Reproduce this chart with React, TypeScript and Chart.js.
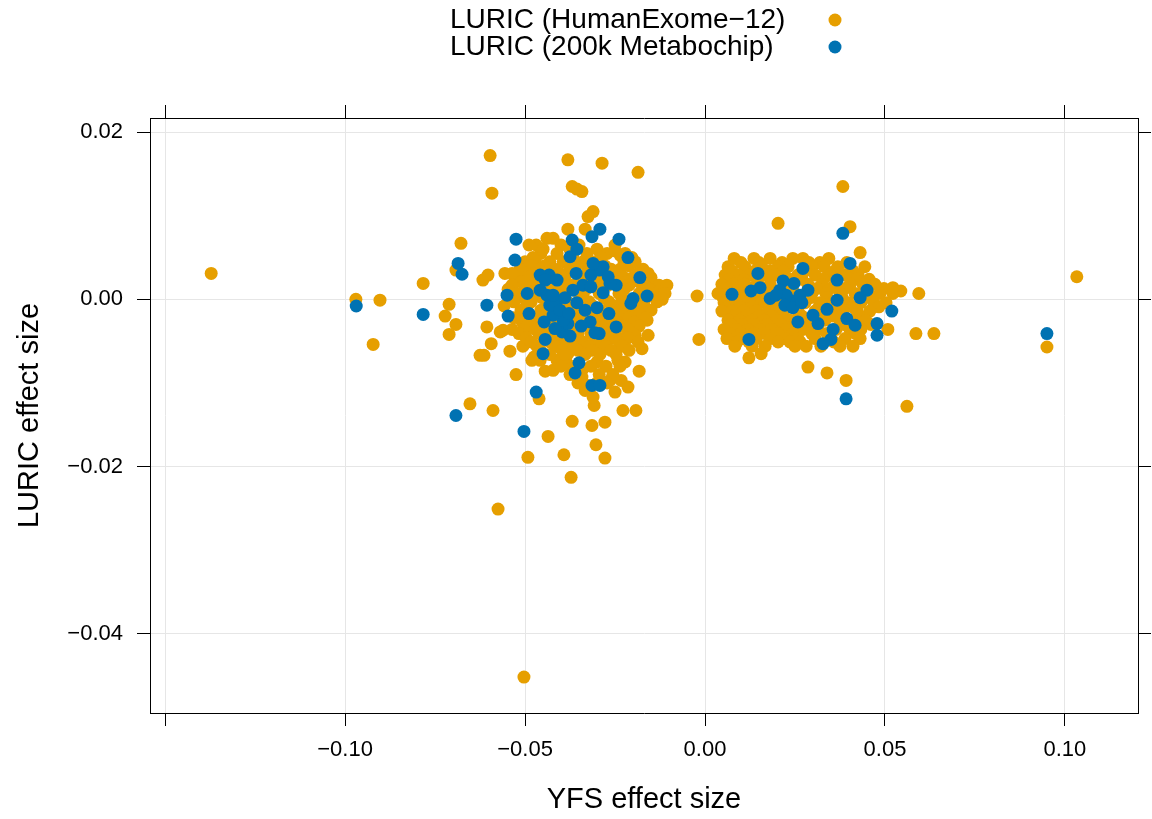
import React, { useEffect, useRef } from 'react';
import { Chart, registerables } from 'chart.js';

Chart.register(...registerables);

const FONT = '"Liberation Sans", Arial, Helvetica, sans-serif';

const seriesLabels = ['LURIC (HumanExome\u221212)', 'LURIC (200k Metabochip)'];
const seriesColors = ['#E69F00', '#0072B2'];

const xAxisTitle = 'YFS effect size';
const yAxisTitle = 'LURIC effect size';

const xRange = [-0.1542, 0.1203];
const yRange = [-0.0495, 0.0217];

const xTickValues = [-0.15, -0.1, -0.05, 0, 0.05, 0.1];
const xTickLabels = ['', '\u22120.10', '\u22120.05', '0.00', '0.05', '0.10'];
const yTickValues = [-0.04, -0.02, 0, 0.02];
const yTickLabels = ['\u22120.04', '\u22120.02', '0.00', '0.02'];

// LURIC (HumanExome-12): [YFS effect, LURIC effect]
const humanExomeLeftOuter: [number, number][] = [
  [-0.1372, 0.0031], [-0.097, 0.0], [-0.0903, -0.0001], [-0.0922, -0.0054], [-0.0783, 0.0019],
  [-0.0711, -0.0006], [-0.0722, -0.002], [-0.0692, -0.003], [-0.0711, -0.0042], [-0.0678, 0.0067],
  [-0.0692, 0.0035], [-0.0625, -0.0067], [-0.0653, -0.0125], [-0.0575, -0.0251], [-0.0503, -0.0452],
  [-0.0597, 0.0172], [-0.0592, 0.0127], [-0.0381, 0.0167], [-0.0286, 0.0163], [-0.0186, 0.0152],
  [-0.0369, 0.0135], [-0.0342, 0.0129], [-0.0356, 0.0132], [-0.0311, 0.0105], [-0.0325, 0.0099],
  [-0.0381, 0.0084], [-0.0333, 0.0084], [-0.0439, 0.0073], [-0.0422, 0.0073], [-0.0469, 0.0065],
  [-0.0236, 0.0053], [-0.0617, 0.0023], [-0.0603, 0.0029], [-0.0556, 0.0031], [-0.0528, 0.0025],
  [-0.0494, 0.0038], [-0.0472, 0.0049], [-0.0139, 0.0017], [-0.0117, 0.0013], [-0.0119, 0.0],
];

const humanExomeLeftLower: [number, number][] = [
  [-0.0606, -0.0033], [-0.0594, -0.0053], [-0.0614, -0.0067], [-0.0569, -0.0039], [-0.0542, -0.0062],
  [-0.0506, -0.0056], [-0.0506, -0.0038], [-0.0525, -0.009], [-0.0589, -0.0133], [-0.0461, -0.0119],
  [-0.0436, -0.0164], [-0.0492, -0.0189], [-0.0392, -0.0186], [-0.0372, -0.0213], [-0.0369, -0.0146],
  [-0.0314, -0.0151], [-0.0303, -0.0174], [-0.0278, -0.019], [-0.0278, -0.0147], [-0.0228, -0.0133],
  [-0.0192, -0.0133], [-0.0308, -0.0127], [-0.0311, -0.0117], [-0.0325, -0.0103], [-0.0342, -0.0093],
  [-0.0333, -0.0109], [-0.025, -0.0111], [-0.0264, -0.0097], [-0.0233, -0.0097], [-0.0214, -0.0105],
  [-0.0242, -0.0073], [-0.0222, -0.0075], [-0.0183, -0.0086], [-0.0175, -0.0059], [-0.0158, -0.0043],
  [-0.0161, -0.0025], [-0.0194, -0.0043], [-0.0217, -0.0043], [-0.03, -0.0075], [-0.0286, -0.0061],
  [-0.0422, -0.0085], [-0.0444, -0.0086], [-0.0411, -0.0073], [-0.0383, -0.0077], [-0.0342, -0.0085],
  [-0.0367, -0.0053], [-0.04, -0.0051], [-0.0381, -0.0065], [-0.03, -0.0049], [-0.0272, -0.0049],
  [-0.0481, -0.0073], [-0.0458, -0.0073], [-0.0475, -0.0069], [-0.0561, -0.0037], [-0.05, -0.0037],
  [-0.0492, -0.0031],
];

const humanExomeLeftCore: [number, number][] = [
  [-0.0489, 0.0065], [-0.04, 0.0065], [-0.035, 0.0065], [-0.025, 0.0065],
  [-0.045, 0.006], [-0.0375, 0.006], [-0.03, 0.006],
  [-0.0456, 0.0055], [-0.0411, 0.0055], [-0.0328, 0.0055], [-0.0272, 0.0055], [-0.0222, 0.0055], [-0.025, 0.0058],
  [-0.0478, 0.005], [-0.0367, 0.005], [-0.0289, 0.005], [-0.0203, 0.005],
  [-0.05, 0.0045], [-0.0431, 0.0045], [-0.0394, 0.0045], [-0.0339, 0.0045], [-0.0306, 0.0045], [-0.0225, 0.0045], [-0.0194, 0.0045],
  [-0.0483, 0.004], [-0.0447, 0.004], [-0.0358, 0.004], [-0.0278, 0.004], [-0.0211, 0.004],
  [-0.0514, 0.0036], [-0.0461, 0.0036], [-0.0417, 0.0036], [-0.0375, 0.0036], [-0.0325, 0.0036], [-0.0261, 0.0036], [-0.0236, 0.0036], [-0.0172, 0.0036],
  [-0.0536, 0.0031], [-0.0475, 0.0031], [-0.0403, 0.0031], [-0.0311, 0.0031], [-0.0244, 0.0031], [-0.0186, 0.0031], [-0.0158, 0.0031],
  [-0.0497, 0.0026], [-0.0447, 0.0026], [-0.0389, 0.0026], [-0.0339, 0.0026], [-0.0281, 0.0026], [-0.0225, 0.0026], [-0.02, 0.0026], [-0.015, 0.0026],
  [-0.0511, 0.0021], [-0.0464, 0.0021], [-0.0406, 0.0021], [-0.0353, 0.0021], [-0.0297, 0.0021], [-0.0239, 0.0021], [-0.0183, 0.0021],
  [-0.0536, 0.0017], [-0.0478, 0.0017], [-0.0425, 0.0017], [-0.0372, 0.0017], [-0.0317, 0.0017], [-0.0269, 0.0017], [-0.0211, 0.0017], [-0.0167, 0.0017], [-0.0128, 0.0017], [-0.0106, 0.0017],
  [-0.0547, 0.0012], [-0.0497, 0.0012], [-0.0442, 0.0012], [-0.0389, 0.0012], [-0.0331, 0.0012], [-0.0283, 0.0012], [-0.0225, 0.0012], [-0.0153, 0.0012],
  [-0.0522, 0.0007], [-0.0467, 0.0007], [-0.0411, 0.0007], [-0.035, 0.0007], [-0.0294, 0.0007], [-0.0239, 0.0007], [-0.0183, 0.0007], [-0.0142, 0.0007], [-0.0111, 0.0007],
  [-0.0506, 0.0002], [-0.0453, 0.0002], [-0.0397, 0.0002], [-0.0339, 0.0002], [-0.0281, 0.0002], [-0.0231, 0.0002], [-0.0164, 0.0002], [-0.0122, 0.0002],
  [-0.0531, -0.0003], [-0.0483, -0.0003], [-0.0439, -0.0003], [-0.0383, -0.0003], [-0.0322, -0.0003], [-0.0267, -0.0003], [-0.0219, -0.0003], [-0.0178, -0.0003], [-0.0133, -0.0003],
  [-0.0558, -0.0008], [-0.0494, -0.0008], [-0.0417, -0.0008], [-0.0364, -0.0008], [-0.0311, -0.0008], [-0.025, -0.0008], [-0.0206, -0.0008], [-0.0169, -0.0008],
  [-0.0511, -0.0013], [-0.0456, -0.0013], [-0.04, -0.0013], [-0.035, -0.0013], [-0.0292, -0.0013], [-0.0236, -0.0013], [-0.0192, -0.0013], [-0.015, -0.0013],
  [-0.0497, -0.0018], [-0.0444, -0.0018], [-0.0386, -0.0018], [-0.0328, -0.0018], [-0.0272, -0.0018], [-0.0228, -0.0018], [-0.0181, -0.0018],
  [-0.0531, -0.0022], [-0.0472, -0.0022], [-0.0422, -0.0022], [-0.0364, -0.0022], [-0.0308, -0.0022], [-0.0256, -0.0022], [-0.0211, -0.0022], [-0.0164, -0.0022],
  [-0.0508, -0.0027], [-0.0458, -0.0027], [-0.0403, -0.0027], [-0.035, -0.0027], [-0.0294, -0.0027], [-0.0244, -0.0027], [-0.0197, -0.0027],
  [-0.0494, -0.0032], [-0.0444, -0.0032], [-0.0389, -0.0032], [-0.0336, -0.0032], [-0.0278, -0.0032], [-0.0228, -0.0032], [-0.0183, -0.0032],
  [-0.0536, -0.0036], [-0.0472, -0.0036], [-0.0428, -0.0036], [-0.0372, -0.0036], [-0.03, -0.0036], [-0.0264, -0.0036], [-0.0214, -0.0036],
  [-0.0517, -0.0041], [-0.0461, -0.0041], [-0.0419, -0.0041], [-0.0353, -0.0041], [-0.0317, -0.0041], [-0.025, -0.0041], [-0.02, -0.0041],
  [-0.0497, -0.0046], [-0.0447, -0.0046], [-0.0392, -0.0046], [-0.0356, -0.0046], [-0.0306, -0.0046], [-0.0256, -0.0046], [-0.0214, -0.0046],
  [-0.0483, -0.0051], [-0.0431, -0.0051], [-0.0339, -0.0051], [-0.0289, -0.0051], [-0.0239, -0.0051], [-0.0186, -0.0051],
  [-0.0467, -0.0056], [-0.0417, -0.0056], [-0.0369, -0.0056], [-0.0322, -0.0056], [-0.0275, -0.0056], [-0.0228, -0.0056],
  [-0.0458, -0.0061], [-0.0397, -0.0061], [-0.0353, -0.0061], [-0.0314, -0.0061], [-0.0261, -0.0061], [-0.0211, -0.0061],
  [-0.0431, -0.0066], [-0.0389, -0.0066], [-0.0333, -0.0066], [-0.0292, -0.0066], [-0.0247, -0.0066],
  [-0.04, -0.008], [-0.0361, -0.008], [-0.0317, -0.008], [-0.0275, -0.008], [-0.0236, -0.008],
  [-0.0375, -0.009], [-0.0294, -0.009], [-0.0256, -0.009],
  [-0.0353, -0.01], [-0.03, -0.01], [-0.0272, -0.01],
];

const humanExomeRight: [number, number][] = [
  [0.0081, 0.0049], [0.0136, 0.0049], [0.0181, 0.0049], [0.0244, 0.0049], [0.0272, 0.0049], [0.0344, 0.0049],
  [0.01, 0.0044], [0.015, 0.0044], [0.0214, 0.0044], [0.0289, 0.0044], [0.0319, 0.0044], [0.0394, 0.0044],
  [0.0064, 0.0039], [0.0111, 0.0039], [0.0158, 0.0039], [0.0203, 0.0039], [0.0231, 0.0039], [0.0297, 0.0039], [0.0331, 0.0039], [0.0369, 0.0039], [0.0444, 0.0039],
  [0.0075, 0.0034], [0.0139, 0.0034], [0.0181, 0.0034], [0.0217, 0.0034], [0.0278, 0.0034], [0.0361, 0.0034], [0.0411, 0.0034],
  [0.0056, 0.0029], [0.0092, 0.0029], [0.0125, 0.0029], [0.0167, 0.0029], [0.0194, 0.0029], [0.0258, 0.0029], [0.0306, 0.0029], [0.0347, 0.0029], [0.0389, 0.0029], [0.0425, 0.0029],
  [0.0067, 0.0024], [0.0108, 0.0024], [0.0147, 0.0024], [0.0236, 0.0024], [0.0269, 0.0024], [0.0328, 0.0024], [0.0417, 0.0024], [0.0456, 0.0024],
  [0.0047, 0.0018], [0.0078, 0.0018], [0.0111, 0.0018], [0.0144, 0.0018], [0.0181, 0.0018], [0.0222, 0.0018], [0.0286, 0.0018], [0.0325, 0.0018], [0.0361, 0.0018], [0.0403, 0.0018], [0.0439, 0.0018], [0.0472, 0.0018],
  [0.0058, 0.0013], [0.0092, 0.0013], [0.0128, 0.0013], [0.0164, 0.0013], [0.0242, 0.0013], [0.0311, 0.0013], [0.0347, 0.0013], [0.0389, 0.0013], [0.0497, 0.0013],
  [0.0036, 0.0007], [0.0069, 0.0007], [0.0103, 0.0007], [0.0133, 0.0007], [0.0167, 0.0007], [0.0203, 0.0007], [0.025, 0.0007], [0.0297, 0.0007], [0.0336, 0.0007], [0.0375, 0.0007], [0.0417, 0.0007], [0.0453, 0.0007], [0.0486, 0.0007], [0.0522, 0.0007],
  [0.005, 0.0002], [0.0083, 0.0002], [0.0117, 0.0002], [0.015, 0.0002], [0.0211, 0.0002], [0.0292, 0.0002], [0.0339, 0.0002], [0.0381, 0.0002], [0.0458, 0.0002],
  [0.0053, -0.0004], [0.0086, -0.0004], [0.0119, -0.0004], [0.0153, -0.0004], [0.0186, -0.0004], [0.0231, -0.0004], [0.0278, -0.0004], [0.0319, -0.0004], [0.0356, -0.0004], [0.0397, -0.0004], [0.0433, -0.0004], [0.0469, -0.0004], [0.0503, -0.0004],
  [0.0064, -0.0009], [0.0097, -0.0009], [0.0133, -0.0009], [0.0197, -0.0009], [0.0244, -0.0009], [0.0317, -0.0009], [0.0367, -0.0009], [0.0411, -0.0009], [0.0483, -0.0009],
  [0.0047, -0.0014], [0.0075, -0.0014], [0.0108, -0.0014], [0.0142, -0.0014], [0.0175, -0.0014], [0.0208, -0.0014], [0.0258, -0.0014], [0.0306, -0.0014], [0.0347, -0.0014], [0.0383, -0.0014], [0.0422, -0.0014], [0.0458, -0.0014],
  [0.0081, -0.002], [0.0114, -0.002], [0.015, -0.002], [0.0186, -0.002], [0.0219, -0.002], [0.0269, -0.002], [0.0311, -0.002], [0.0356, -0.002], [0.0431, -0.002],
  [0.0064, -0.0025], [0.0097, -0.0025], [0.0131, -0.0025], [0.0164, -0.0025], [0.02, -0.0025], [0.0236, -0.0025], [0.0286, -0.0025], [0.0333, -0.0025], [0.0375, -0.0025], [0.0408, -0.0025], [0.0447, -0.0025],
  [0.0072, -0.003], [0.0103, -0.003], [0.0136, -0.003], [0.0172, -0.003], [0.0211, -0.003], [0.025, -0.003], [0.03, -0.003], [0.0386, -0.003], [0.0461, -0.003],
  [0.0053, -0.0036], [0.0086, -0.0036], [0.0119, -0.0036], [0.0153, -0.0036], [0.0186, -0.0036], [0.0225, -0.0036], [0.0272, -0.0036], [0.0314, -0.0036], [0.0364, -0.0036], [0.0403, -0.0036], [0.0433, -0.0036], [0.0508, -0.0036],
  [0.0069, -0.0041], [0.01, -0.0041], [0.0136, -0.0041], [0.0167, -0.0041], [0.0203, -0.0041], [0.0244, -0.0041], [0.0297, -0.0041], [0.0339, -0.0041], [0.0419, -0.0041],
  [0.0061, -0.0047], [0.0103, -0.0047], [0.0142, -0.0047], [0.0181, -0.0047], [0.0222, -0.0047], [0.0258, -0.0047], [0.0306, -0.0047], [0.0347, -0.0047], [0.0389, -0.0047], [0.0431, -0.0047],
  [0.0089, -0.0051], [0.0122, -0.0051], [0.0203, -0.0051], [0.0236, -0.0051], [0.0264, -0.0051], [0.0358, -0.0051],
  [0.0083, -0.0056], [0.0131, -0.0056], [0.0167, -0.0056], [0.025, -0.0056], [0.0281, -0.0056], [0.0322, -0.0056], [0.0375, -0.0056], [0.0411, -0.0056],
  [0.0122, -0.007], [0.0156, -0.0065], [0.0286, -0.0081], [0.0339, -0.0088], [0.0392, -0.0097],
  [0.0383, 0.0135], [0.0203, 0.0091], [0.0403, 0.0087], [0.0431, 0.0056],
  [0.0594, 0.0007], [0.0544, 0.001], [0.0522, 0.0014], [0.0586, -0.0041], [0.0636, -0.0041],
  [0.0561, -0.0128], [0.1033, 0.0027], [0.095, -0.0057], [-0.0022, 0.0004], [-0.0017, -0.0048],
];

// LURIC (200k Metabochip)
const metabochipLeft: [number, number][] = [
  [-0.0969, -0.0008], [-0.0783, -0.0018], [-0.0686, 0.0043], [-0.0675, 0.003], [-0.0692, -0.0139],
  [-0.0525, 0.0072], [-0.0292, 0.0084], [-0.0314, 0.0075], [-0.0369, 0.0071], [-0.0239, 0.0072],
  [-0.0356, 0.006], [-0.0528, 0.0047], [-0.0375, 0.0051], [-0.0214, 0.005], [-0.0292, 0.0038],
  [-0.0358, 0.0031], [-0.0431, 0.0026], [-0.0181, 0.0026], [-0.0161, 0.0004], [-0.02, 0.0001],
  [-0.0247, 0.0017], [-0.055, 0.0005], [-0.0606, -0.0007], [-0.0547, -0.002], [-0.0494, 0.0007],
  [-0.0444, -0.0048], [-0.045, -0.0065], [-0.0469, -0.0111], [-0.0361, -0.0088], [-0.035, -0.0076],
  [-0.0314, -0.0103], [-0.0292, -0.0103], [-0.0503, -0.0158], [-0.0294, -0.0041], [-0.0247, -0.0033],
  [-0.0397, -0.0039], [-0.0375, -0.0044], [-0.0206, -0.0005], [-0.0267, -0.0017], [-0.0333, -0.0013],
  [-0.03, -0.001], [-0.0381, -0.0029], [-0.0394, -0.0025], [-0.0422, -0.0019], [-0.0439, 0.0005],
  [-0.0489, -0.0017], [-0.0433, 0.0029], [-0.0411, -0.0001], [-0.0294, 0.0035], [-0.0264, 0.0019],
  [-0.0283, 0.0039], [-0.0317, 0.0029], [-0.0311, 0.0043], [-0.0458, 0.0029], [-0.0444, 0.0023],
  [-0.0411, 0.0023], [-0.0367, 0.0011], [-0.0458, 0.0011], [-0.0431, -0.0007], [-0.0356, -0.0004],
  [-0.0319, -0.0027], [-0.0422, 0.0005], [-0.0403, -0.0013], [-0.0389, 0.0002], [-0.0447, -0.0027],
  [-0.0417, -0.0035], [-0.0378, -0.0017], [-0.0339, 0.0017], [-0.0317, 0.0015], [-0.0283, 0.0008],
  [-0.0269, 0.0027], [-0.0344, -0.0032], [-0.0306, -0.004],
];

const metabochipRight: [number, number][] = [
  [0.0383, 0.0079], [0.0403, 0.0043], [0.0272, 0.0037], [0.0147, 0.0031], [0.0217, 0.0022],
  [0.0247, 0.0019], [0.0367, 0.0023], [0.045, 0.0011], [0.0075, 0.0006], [0.0153, 0.0014],
  [0.0128, 0.001], [0.0181, 0.0001], [0.0286, 0.0011], [0.0367, -0.0001], [0.0431, 0.0002],
  [0.0519, -0.0014], [0.0339, -0.0012], [0.0236, -0.0001], [0.0264, 0.0005], [0.0258, -0.0027],
  [0.0314, -0.0029], [0.0356, -0.0036], [0.0394, -0.0023], [0.0417, -0.0031], [0.0478, -0.0029],
  [0.0478, -0.0043], [0.0122, -0.0048], [0.0328, -0.0053], [0.03, -0.0019], [0.0392, -0.0119],
  [0.095, -0.0041], [0.0208, 0.0011], [0.0225, 0.0005], [0.0222, -0.0007], [0.0244, -0.001],
  [0.0269, -0.0004], [0.0197, 0.0005], [0.035, -0.0048],
];

const toPoints = (arrs: [number, number][][]) =>
  arrs.flat().map(([x, y]) => ({ x, y }));

const keyPlugin = {
  id: 'keyPlugin',
  afterDraw(chart: any) {
    const ctx = chart.ctx;
    ctx.save();
    ctx.font = `28px ${FONT}`;
    ctx.textAlign = 'left';
    ctx.textBaseline = 'middle';
    chart.data.datasets.forEach((ds: any, i: number) => {
      const y = 20 + i * 27;
      ctx.fillStyle = '#000';
      ctx.fillText(ds.label, 450, y);
      ctx.beginPath();
      ctx.arc(835, y, 6.5, 0, Math.PI * 2);
      ctx.fillStyle = ds.backgroundColor;
      ctx.fill();
    });
    ctx.restore();
  },
};

export default function App() {
  const ref = useRef<HTMLCanvasElement | null>(null);

  useEffect(() => {
    if (!ref.current) return;
    const setX = (s: any) => { s.ticks = xTickValues.map((value) => ({ value })); };
    const setY = (s: any) => { s.ticks = yTickValues.map((value) => ({ value })); };
    const chart = new Chart(ref.current, {
      type: 'scatter',
      data: {
        datasets: [
          {
            label: seriesLabels[0],
            data: toPoints([humanExomeLeftOuter, humanExomeLeftLower, humanExomeLeftCore, humanExomeRight]),
            backgroundColor: seriesColors[0],
            borderWidth: 0,
            pointRadius: 6.5,
            order: 2,
          },
          {
            label: seriesLabels[1],
            data: toPoints([metabochipLeft, metabochipRight]),
            backgroundColor: seriesColors[1],
            borderWidth: 0,
            pointRadius: 6.5,
            order: 1,
          },
        ],
      },
      options: {
        responsive: false,
        animation: false,
        events: [],
        devicePixelRatio: 1,
        layout: { padding: 0 },
        plugins: { legend: { display: false }, tooltip: { enabled: false } },
        scales: {
          x: {
            type: 'linear',
            position: 'bottom',
            min: xRange[0],
            max: xRange[1],
            afterBuildTicks: setX,
            afterFit: (s: any) => { s.height = 106; },
            grid: { color: '#e6e6e6', lineWidth: 1, drawTicks: true, tickLength: 13, tickColor: '#000', tickWidth: 1 },
            border: { display: true, color: '#000', width: 1 },
            ticks: {
              callback: (_v: any, i: number) => xTickLabels[i],
              font: { size: 22, family: FONT },
              color: '#000',
              padding: 11,
              maxRotation: 0,
              autoSkip: false,
            },
            title: { display: true, text: xAxisTitle, font: { size: 29, family: FONT }, color: '#000', padding: { top: 0, bottom: 2 } },
          },
          x2: {
            type: 'linear',
            position: 'top',
            min: xRange[0],
            max: xRange[1],
            afterBuildTicks: setX,
            afterFit: (s: any) => { s.height = 118; },
            grid: { drawOnChartArea: false, drawTicks: true, tickLength: 13, tickColor: '#000', tickWidth: 1 },
            border: { display: true, color: '#000', width: 1 },
            ticks: { display: false },
          },
          y: {
            type: 'linear',
            position: 'left',
            min: yRange[0],
            max: yRange[1],
            afterBuildTicks: setY,
            afterFit: (s: any) => { s.width = 150; },
            grid: { color: '#e6e6e6', lineWidth: 1, drawTicks: true, tickLength: 13, tickColor: '#000', tickWidth: 1 },
            border: { display: true, color: '#000', width: 1 },
            ticks: {
              callback: (_v: any, i: number) => yTickLabels[i],
              font: { size: 22, family: FONT },
              color: '#000',
              padding: 14,
              autoSkip: false,
            },
            title: { display: true, text: yAxisTitle, font: { size: 29, family: FONT }, color: '#000', padding: { top: 13, bottom: 0 } },
          },
          y2: {
            type: 'linear',
            position: 'right',
            min: yRange[0],
            max: yRange[1],
            afterBuildTicks: setY,
            afterFit: (s: any) => { s.width = 14; },
            grid: { drawOnChartArea: false, drawTicks: true, tickLength: 13, tickColor: '#000', tickWidth: 1 },
            border: { display: true, color: '#000', width: 1 },
            ticks: { display: false },
          },
        },
      },
      plugins: [keyPlugin],
    } as any);
    return () => chart.destroy();
  }, []);

  return (
    <div style={{ position: 'absolute', left: 0, top: 0, width: 1152, height: 819, background: '#fff' }}>
      <canvas ref={ref} width={1152} height={819} style={{ display: 'block' }} />
    </div>
  );
}
